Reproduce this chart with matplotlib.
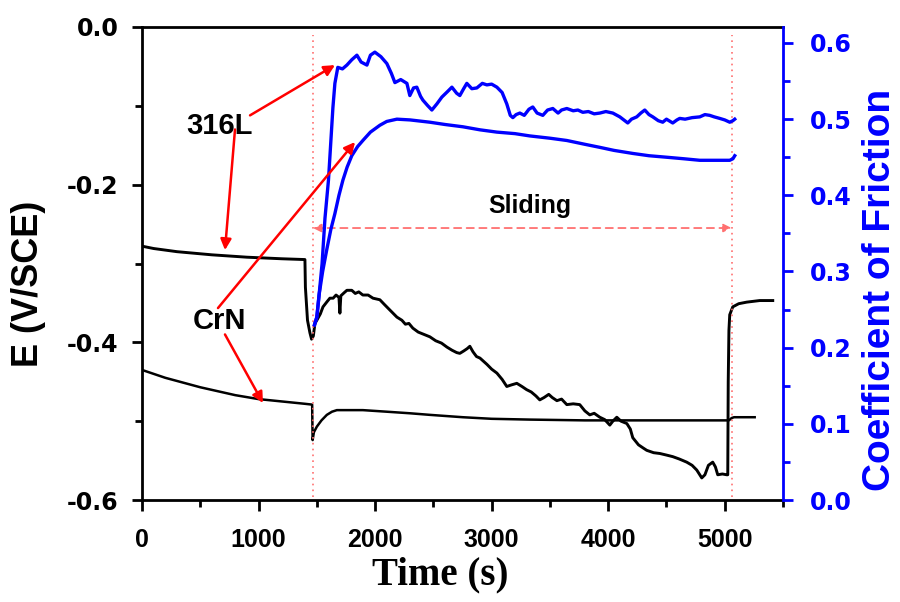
import matplotlib
matplotlib.use("Agg")
import matplotlib.pyplot as plt
from matplotlib.ticker import MultipleLocator, FormatStrFormatter

plt.rcParams["axes.unicode_minus"] = False
plt.rcParams["font.family"] = ["Liberation Sans", "DejaVu Sans"]

# Open-circuit potential of uncoated 316L (V vs SCE)
t_316l = [0, 100, 300, 600, 900, 1200, 1398, 1402, 1420, 1441, 1455, 1470, 1484, 1500,
          1530, 1553, 1590, 1612, 1640, 1665, 1690, 1698, 1706, 1735, 1758, 1800, 1830,
          1860, 1895, 1940, 1982, 2041, 2080, 2120, 2187, 2230, 2260, 2290, 2324, 2370,
          2420, 2470, 2520, 2570, 2616, 2660, 2700, 2727, 2760, 2790, 2813, 2840, 2870,
          2900, 2960, 3000, 3045, 3090, 3130, 3170, 3216, 3260, 3300, 3340, 3380, 3413,
          3450, 3490, 3520, 3560, 3600, 3645, 3700, 3756, 3800, 3842, 3880, 3928, 3970,
          4014, 4040, 4074, 4110, 4160, 4190, 4211, 4260, 4300, 4331, 4390, 4443, 4500,
          4554, 4610, 4674, 4720, 4760, 4803, 4830, 4860, 4897, 4920, 4940, 4980, 5017,
          5026, 5030, 5036, 5043, 5069, 5120, 5189, 5300, 5412]
e_316l = [-0.278, -0.281, -0.285, -0.289, -0.292, -0.294, -0.295, -0.330, -0.372, -0.388,
          -0.396, -0.392, -0.376, -0.372, -0.364, -0.355, -0.348, -0.344, -0.344, -0.340,
          -0.343, -0.363, -0.341, -0.337, -0.334, -0.334, -0.338, -0.336, -0.340, -0.340,
          -0.344, -0.346, -0.352, -0.358, -0.368, -0.372, -0.377, -0.376, -0.382, -0.387,
          -0.390, -0.393, -0.398, -0.401, -0.406, -0.410, -0.413, -0.414, -0.411, -0.408,
          -0.405, -0.412, -0.418, -0.420, -0.428, -0.434, -0.439, -0.447, -0.456, -0.454,
          -0.452, -0.456, -0.460, -0.463, -0.468, -0.473, -0.470, -0.466, -0.470, -0.474,
          -0.472, -0.479, -0.478, -0.479, -0.487, -0.492, -0.490, -0.495, -0.498, -0.505,
          -0.500, -0.495, -0.500, -0.503, -0.510, -0.521, -0.530, -0.534, -0.537, -0.540,
          -0.541, -0.543, -0.545, -0.548, -0.552, -0.556, -0.562, -0.572, -0.568, -0.556,
          -0.552, -0.558, -0.568, -0.567, -0.568, -0.568, -0.450, -0.385, -0.365, -0.355,
          -0.351, -0.349, -0.347, -0.347]

# Open-circuit potential of the CrN-coated sample (V vs SCE)
t_crn = [0, 100, 200, 350, 500, 650, 800, 1000, 1200, 1400, 1460, 1464, 1475, 1500, 1540,
         1586, 1630, 1672, 1800, 1895, 2100, 2300, 2470, 2753, 3000, 3327, 3800, 4300,
         4800, 5035, 5060, 5080, 5150, 5257]
e_crn = [-0.435, -0.440, -0.445, -0.451, -0.457, -0.462, -0.467, -0.472, -0.475, -0.478,
         -0.479, -0.524, -0.514, -0.507, -0.499, -0.492, -0.488, -0.486, -0.486, -0.486,
         -0.488, -0.490, -0.492, -0.495, -0.497, -0.498, -0.499, -0.499, -0.499, -0.499,
         -0.496, -0.495, -0.495, -0.495]

# Coefficient of friction during sliding, 316L
t_cof_316l = [1480, 1500, 1520, 1545, 1570, 1600, 1620, 1638, 1655, 1680, 1720, 1758, 1800,
              1844, 1880, 1930, 1960, 1998, 2050, 2101, 2140, 2170, 2220, 2273, 2298, 2330,
              2358, 2390, 2410, 2450, 2487, 2530, 2573, 2620, 2659, 2700, 2727, 2760, 2787,
              2830, 2873, 2920, 2959, 3000, 3045, 3090, 3130, 3160, 3182, 3210, 3242, 3280,
              3320, 3353, 3390, 3439, 3480, 3525, 3570, 3600, 3645, 3700, 3740, 3782, 3830,
              3880, 3928, 3980, 4040, 4100, 4168, 4200, 4245, 4280, 4314, 4350, 4383, 4430,
              4468, 4500, 4554, 4590, 4614, 4660, 4720, 4786, 4830, 4871, 4910, 4957, 5000,
              5043, 5070, 5086]
cof_316l = [0.230, 0.240, 0.270, 0.310, 0.370, 0.420, 0.470, 0.515, 0.547, 0.568, 0.566,
            0.571, 0.578, 0.584, 0.575, 0.571, 0.584, 0.588, 0.582, 0.573, 0.560, 0.548,
            0.552, 0.547, 0.531, 0.541, 0.542, 0.530, 0.525, 0.518, 0.512, 0.520, 0.529,
            0.536, 0.542, 0.534, 0.531, 0.540, 0.547, 0.540, 0.541, 0.547, 0.545, 0.546,
            0.542, 0.535, 0.520, 0.505, 0.502, 0.506, 0.508, 0.505, 0.513, 0.516, 0.508,
            0.505, 0.512, 0.514, 0.508, 0.512, 0.514, 0.511, 0.512, 0.509, 0.510, 0.507,
            0.508, 0.510, 0.508, 0.503, 0.495, 0.500, 0.503, 0.508, 0.512, 0.506, 0.503,
            0.498, 0.496, 0.500, 0.495, 0.499, 0.501, 0.500, 0.502, 0.503, 0.506, 0.505,
            0.503, 0.501, 0.499, 0.496, 0.498, 0.500]

# Coefficient of friction during sliding, CrN coating
t_cof_crn = [1480, 1500, 1520, 1550, 1587, 1620, 1655, 1690, 1724, 1760, 1800, 1850, 1895,
             1960, 2041, 2100, 2187, 2300, 2470, 2600, 2753, 2900, 3045, 3200, 3327, 3500,
             3645, 3800, 3928, 4050, 4211, 4350, 4503, 4650, 4786, 4900, 5043, 5070, 5086]
cof_crn = [0.230, 0.240, 0.270, 0.300, 0.330, 0.355, 0.376, 0.400, 0.420, 0.437, 0.452,
           0.464, 0.472, 0.483, 0.492, 0.497, 0.500, 0.499, 0.496, 0.493, 0.490, 0.486,
           0.483, 0.481, 0.478, 0.475, 0.472, 0.467, 0.463, 0.459, 0.455, 0.452, 0.450,
           0.448, 0.446, 0.446, 0.446, 0.448, 0.452]

slide_start, slide_end = 1467, 5060

x_ticks = [0, 1000, 2000, 3000, 4000, 5000]
e_ticks = [-0.6, -0.4, -0.2, 0.0]
cof_ticks = [0.0, 0.1, 0.2, 0.3, 0.4, 0.5, 0.6]

BLUE = "#0000ff"
RED = "#ff0000"
PALE_RED = "#ff7070"

fig = plt.figure(figsize=(9.0, 6.02), dpi=100)
ax = fig.add_axes([142 / 900, 1 - 500 / 602, 641 / 900, 473 / 602])
ax2 = ax.twinx()

ax.plot(t_316l, e_316l, color="black", lw=2.1, solid_joinstyle="round")
ax.plot(t_crn, e_crn, color="black", lw=1.8)
ax2.plot(t_cof_316l, cof_316l, color=BLUE, lw=2.4, solid_joinstyle="round")
ax2.plot(t_cof_crn, cof_crn, color=BLUE, lw=2.4)

ax.set_xlim(0, 5500)
ax.set_ylim(-0.6, 0.0)
ax2.set_ylim(0.0, 0.621)

ax.set_xticks(x_ticks)
ax.xaxis.set_minor_locator(MultipleLocator(500))
ax.set_yticks(e_ticks)
ax.yaxis.set_minor_locator(MultipleLocator(0.1))
ax.yaxis.set_major_formatter(FormatStrFormatter("%.1f"))
ax.set_xticklabels([str(v) for v in x_ticks])
ax2.set_yticks(cof_ticks)
ax2.yaxis.set_minor_locator(MultipleLocator(0.05))
ax2.yaxis.set_major_formatter(FormatStrFormatter("%.1f"))

for side in ("left", "bottom", "top"):
    ax.spines[side].set_linewidth(2.0)
    ax.spines[side].set_color("black")
ax2.spines["right"].set_linewidth(2.0)
ax2.spines["right"].set_color(BLUE)
for side in ("left", "bottom", "top"):
    ax2.spines[side].set_visible(False)
ax.spines["right"].set_visible(False)

ax.tick_params(axis="y", which="major", direction="out", length=7, width=2,
               labelsize=17, color="black", pad=10)
ax.tick_params(axis="x", which="major", direction="out", length=8, width=2,
               labelsize=18, color="black", pad=12)
ax.tick_params(axis="both", which="minor", direction="out", length=5, width=2,
               color="black")
ax2.tick_params(axis="y", which="major", direction="out", length=7, width=2,
                labelsize=17, color=BLUE, labelcolor=BLUE, pad=12)
ax2.tick_params(axis="y", which="minor", direction="out", length=5, width=2, color=BLUE)
for lab in ax.get_xticklabels():
    lab.set_fontweight("bold")
for lab in ax.get_yticklabels() + ax2.get_yticklabels():
    lab.set_fontweight("bold")
    lab.set_family("DejaVu Sans")

fig.text(29 / 900, 1 - 284 / 602, "E (V/SCE)", rotation=90, ha="center", va="center",
         fontsize=26, fontweight="bold")
fig.text(880 / 900, 1 - 290 / 602, "Coefficient of Friction", rotation=90, ha="center",
         va="center", fontsize=28, fontweight="bold", color=BLUE)
fig.text(440 / 900, 1 - 575 / 602, "Time (s)", ha="center", va="center", fontsize=28,
         fontweight="bold", family=["Liberation Serif", "DejaVu Serif"])

# sliding window markers
for tv in (slide_start, slide_end):
    ax.axvline(tv, ymin=0.006, ymax=0.983, color=PALE_RED, lw=1.2, ls=(0, (1, 2.5)))
ax.annotate("", xy=(slide_end, -0.255), xytext=(slide_start, -0.255),
            arrowprops=dict(arrowstyle="<|-|>", color=PALE_RED, lw=1.3, ls=(0, (4, 3)),
                            mutation_scale=12, shrinkA=0, shrinkB=0))
ax.text(3328, -0.236, "Sliding", ha="center", va="baseline", fontsize=18,
        fontweight="bold")

# sample labels with pointers
ax.text(669, -0.125, "316L", ha="center", va="center", fontsize=21, fontweight="bold")
ax.text(669, -0.373, "CrN", ha="center", va="center", fontsize=21, fontweight="bold")

arrow_kw = dict(arrowstyle="-|>", color=RED, lw=1.8, mutation_scale=16, shrinkA=0, shrinkB=0)
ax2.annotate("", xy=(1656, 0.571), xytext=(927, 0.505), arrowprops=arrow_kw)
ax.annotate("", xy=(712, -0.283), xytext=(798, -0.130), arrowprops=arrow_kw)
ax2.annotate("", xy=(1828, 0.470), xytext=(652, 0.252), arrowprops=arrow_kw)
ax.annotate("", xy=(1038, -0.477), xytext=(712, -0.390), arrowprops=arrow_kw)

fig.savefig("out.png", dpi=100)
